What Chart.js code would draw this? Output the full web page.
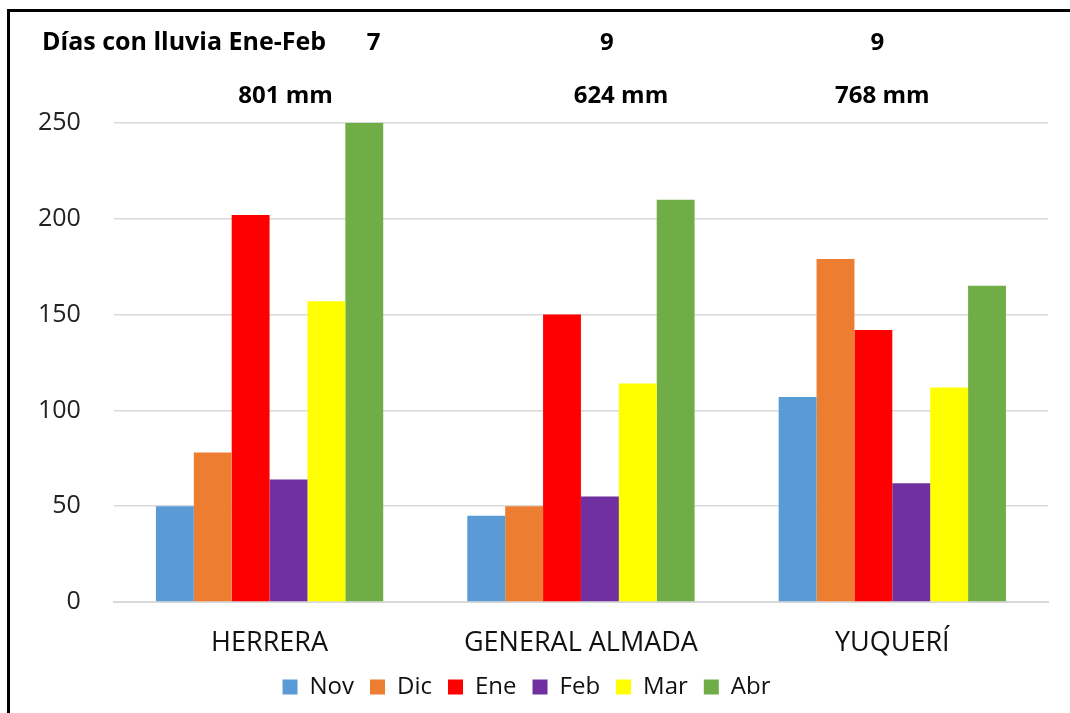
<!DOCTYPE html>
<html>
<head>
<meta charset="utf-8">
<script src="https://cdn.jsdelivr.net/npm/chart.js@4/dist/chart.umd.min.js"></script>
<style>
  html, body { margin: 0; padding: 0; background: #fff; overflow: hidden; }
  #frame {
    position: absolute; left: 7px; top: 9px;
    width: 1200px; height: 900px;
    border-left: 3px solid #000; border-top: 3px solid #000;
  }
  #wrap { position: absolute; left: 0; top: 0; width: 1070px; height: 713px; }
</style>
</head>
<body>
<div id="frame"></div>
<div id="wrap"><canvas id="chart"></canvas></div>
<script>
const categories = ["HERRERA", "GENERAL ALMADA", "YUQUERÍ"]
const months = ["Nov", "Dic", "Ene", "Feb", "Mar", "Abr"]
const colors = ["#5B9BD5", "#ED7D31", "#FF0000", "#7030A0", "#FFFF00", "#70AD47"]

const nov = [50, 45, 107]
const dic = [78, 50, 179]
const ene = [202, 150, 142]
const feb = [64, 55, 62]
const mar = [157, 114, 112]
const abr = [250, 210, 165]

const rainDays = ["7", "9", "9"]
const totals = ["801 mm", "624 mm", "768 mm"]
const headLabel = "Días con lluvia Ene-Feb"

const series = [nov, dic, ene, feb, mar, abr]

var datasets = []
for (let i = 0; i < months.length; i++) {
  datasets.push({
    label: months[i],
    data: series[i],
    backgroundColor: colors[i],
    borderWidth: 0
  })
}

// text boxes above the plot, placed relative to each category center
const headerText = {
  id: "headerText",
  afterDraw(chart) {
    const ctx = chart.ctx
    const x = chart.scales.x
    const dayShift = [104, 26, -15]
    const mmShift = [16, 40, -10]
    ctx.save()
    ctx.fillStyle = "#000"
    ctx.textBaseline = "middle"
    ctx.textAlign = "left"
    ctx.font = "bold 25px 'Open Sans'"
    ctx.fillText(headLabel, 42, 43)
    ctx.font = "bold 24px 'Open Sans'"
    ctx.textAlign = "center"
    for (let i = 0; i < categories.length; i++) {
      const cx = x.getPixelForValue(i)
      ctx.fillText(rainDays[i], cx + dayShift[i], 43)
      ctx.fillText(totals[i], cx + mmShift[i], 96)
    }
    ctx.restore()
  }
}

const ctx = document.getElementById("chart")

new Chart(ctx, {
  type: "bar",
  data: { labels: categories, datasets: datasets },
  plugins: [headerText],
  options: {
    responsive: true,
    maintainAspectRatio: false,
    animation: false,
    categoryPercentage: 0.73,
    barPercentage: 1.0,
    layout: {
      padding: { top: 123, right: 22, bottom: 4, left: 5 }
    },
    plugins: {
      title: { display: false },
      tooltip: { enabled: false },
      legend: {
        position: "bottom",
        labels: {
          boxWidth: 15,
          boxHeight: 15,
          padding: 16,
          color: "#111",
          font: { family: "Open Sans", size: 24 }
        }
      }
    },
    scales: {
      x: {
        grid: { display: false, drawTicks: false },
        border: { display: true, color: "#d9d9d9", width: 2 },
        ticks: {
          color: "#111",
          padding: 25,
          font: { family: "Open Sans", size: 27 }
        },
        afterFit: function(scale) {
          scale.height = 57
        }
      },
      y: {
        min: 0,
        max: 250,
        border: { display: false },
        grid: { color: "#d9d9d9", lineWidth: 1.5, drawTicks: false },
        ticks: {
          stepSize: 50,
          color: "#222",
          padding: 33,
          font: { family: "Open Sans", size: 25 }
        }
      }
    }
  }
})
</script>
</body>
</html>
